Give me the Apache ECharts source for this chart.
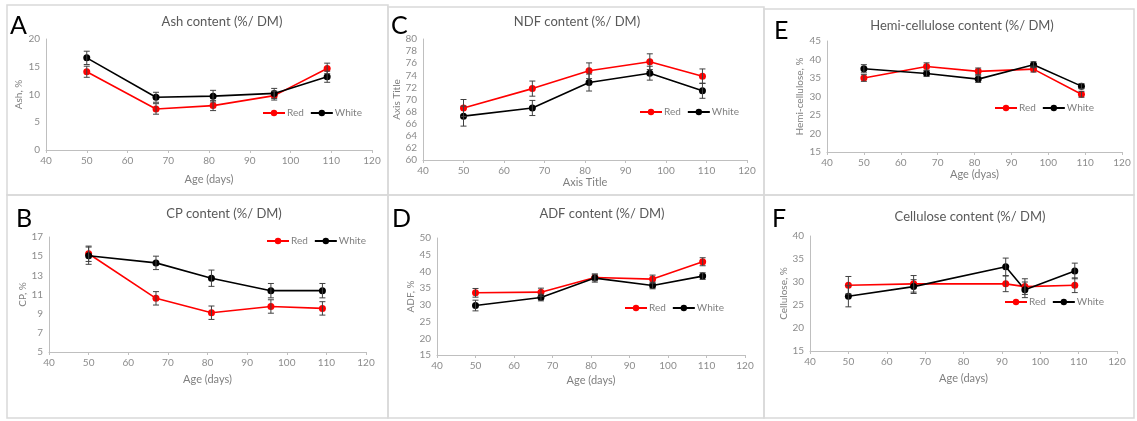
<!DOCTYPE html>
<html>
<head>
<meta charset="utf-8">
<script src="https://cdn.jsdelivr.net/npm/echarts@6/dist/echarts.min.js"></script>
<style>html,body{margin:0;padding:0;background:#fff}#c{width:1137px;height:421px}</style>
</head>
<body>
<div id="c"></div>
<script>
// ---- data ----
const ages = [50, 67, 81, 96, 109];
const agesCellulose = [50, 67, 91, 96, 109];
const xTicks = [40, 50, 60, 70, 80, 90, 100, 110, 120];

const ashRed = [14.1, 7.4, 8.0, 9.8, 14.7];
const ashRedErr = [1.0, 0.95, 0.9, 0.8, 0.95];
const ashWhite = [16.6, 9.5, 9.7, 10.2, 13.2];
const ashWhiteErr = [1.2, 0.9, 1.05, 0.9, 1.0];

const ndfRed = [68.6, 71.8, 74.75, 76.25, 73.85];
const ndfRedErr = [1.4, 1.25, 1.3, 1.3, 1.2];
const ndfWhite = [67.25, 68.6, 72.8, 74.35, 71.45];
const ndfWhiteErr = [1.65, 1.25, 1.4, 1.15, 1.25];

const hemiRed = [35.0, 38.1, 36.8, 37.4, 30.6];
const hemiRedErr = [0.9, 1.0, 0.9, 0.8, 0.8];
const hemiWhite = [37.5, 36.2, 34.7, 38.6, 32.8];
const hemiWhiteErr = [1.1, 0.8, 0.9, 0.8, 0.7];

const cpRed = [15.25, 10.6, 9.1, 9.75, 9.55];
const cpRedErr = [0.8, 0.7, 0.7, 0.7, 0.7];
const cpWhite = [15.05, 14.3, 12.7, 11.4, 11.4];
const cpWhiteErr = [0.9, 0.7, 0.85, 0.75, 0.75];

const adfRed = [33.6, 33.8, 38.2, 37.7, 42.9];
const adfRedErr = [1.3, 1.2, 1.0, 1.2, 1.2];
const adfWhite = [29.8, 32.2, 38.0, 35.8, 38.6];
const adfWhiteErr = [1.6, 1.0, 1.2, 1.0, 1.0];

const celRed = [29.3, 29.6, 29.6, 29.0, 29.3];
const celRedErr = [1.9, 1.8, 1.7, 1.7, 1.6];
const celWhite = [26.9, 29.0, 33.3, 28.3, 32.4];
const celWhiteErr = [2.3, 1.5, 1.9, 1.7, 1.7];

// ---- panels (text + data references) ----
const panels = [
  {letter:'A', title:'Ash content (%/ DM)', xName:'Age (days)', yName:'Ash, %', yMin:0, yMax:20, yStep:5, x:ages, red:ashRed, redErr:ashRedErr, white:ashWhite, whiteErr:ashWhiteErr},
  {letter:'C', title:'NDF content (%/ DM)', xName:'Axis Title', yName:'Axis Title', yMin:60, yMax:80, yStep:2, x:ages, red:ndfRed, redErr:ndfRedErr, white:ndfWhite, whiteErr:ndfWhiteErr},
  {letter:'E', title:'Hemi-cellulose content (%/ DM)', xName:'Age (dyas)', yName:'Hemi-cellulose, %', yMin:15, yMax:45, yStep:5, x:ages, red:hemiRed, redErr:hemiRedErr, white:hemiWhite, whiteErr:hemiWhiteErr},
  {letter:'B', title:'CP content (%/ DM)', xName:'Age (days)', yName:'CP, %', yMin:5, yMax:17, yStep:2, x:ages, red:cpRed, redErr:cpRedErr, white:cpWhite, whiteErr:cpWhiteErr},
  {letter:'D', title:'ADF content (%/ DM)', xName:'Age (days)', yName:'ADF, %', yMin:15, yMax:50, yStep:5, x:ages, red:adfRed, redErr:adfRedErr, white:adfWhite, whiteErr:adfWhiteErr},
  {letter:'F', title:'Cellulose content (%/ DM)', xName:'Age (days)', yName:'Cellulose, %', yMin:15, yMax:40, yStep:5, x:agesCellulose, red:celRed, redErr:celRedErr, white:celWhite, whiteErr:celWhiteErr}
];

// ---- layout ----
const layout = [
  {grid:{left:46, top:39, width:326, height:111}, box:[7,5,381,190], letter:[10,13], titleC:[222,14], legend:[262,108], yNameGap:22, xNameGap:24},
  {grid:{left:423, top:39, width:324, height:121}, box:[388,7,376,188], letter:[391,13], titleC:[577,14], legend:[639,107], yNameGap:20, xNameGap:16},
  {grid:{left:827, top:41, width:295, height:111}, box:[764,9,370,186], letter:[774,18], titleC:[962,18], legend:[994,103], yNameGap:22, xNameGap:17},
  {grid:{left:49, top:237, width:317, height:115}, box:[7,195,381,223], letter:[16,206], titleC:[224,206], legend:[266,236], yNameGap:21, xNameGap:22},
  {grid:{left:437, top:238, width:308, height:117}, box:[388,195,376,223], letter:[392,206], titleC:[602,206], legend:[624,303], yNameGap:21, xNameGap:20},
  {grid:{left:810, top:236, width:307, height:115}, box:[764,195,370,223], letter:[772,206], titleC:[970,209], legend:[1004,297], yNameGap:21, xNameGap:22}
];

const FONT = 'Lato, Open Sans, Liberation Sans, sans-serif';
const grid = [], xAxis = [], yAxis = [], series = [], title = [], legend = [], graphic = [];

function errRender(params, api) {
  const x = api.value(0), y = api.value(1), e = api.value(2);
  const hi = api.coord([x, y + e]), lo = api.coord([x, y - e]);
  const w = 3;
  const st = {stroke:'#404040', lineWidth:1};
  return {type:'group', children:[
    {type:'line', shape:{x1:hi[0], y1:hi[1], x2:lo[0], y2:lo[1]}, style:st},
    {type:'line', shape:{x1:hi[0]-w, y1:hi[1], x2:hi[0]+w, y2:hi[1]}, style:st},
    {type:'line', shape:{x1:lo[0]-w, y1:lo[1], x2:lo[0]+w, y2:lo[1]}, style:st}
  ]};
}

panels.forEach((p, i) => {
  const L = layout[i];
  grid.push(Object.assign({containLabel:false}, L.grid));
  xAxis.push({
    type:'value', gridIndex:i, min:xTicks[0], max:xTicks[xTicks.length-1], interval:xTicks[1]-xTicks[0],
    name:p.xName, nameLocation:'middle', nameGap:L.xNameGap,
    nameTextStyle:{color:'#7f7f7f', fontSize:11, fontFamily:FONT},
    axisLine:{lineStyle:{color:'#bfbfbf', width:1}},
    axisTick:{show:true, length:3, lineStyle:{color:'#bfbfbf'}},
    axisLabel:{color:'#8c8c8c', fontSize:10, fontFamily:FONT, margin:6},
    splitLine:{show:false}
  });
  yAxis.push({
    type:'value', gridIndex:i, min:p.yMin, max:p.yMax, interval:p.yStep,
    name:p.yName, nameLocation:'middle', nameGap:L.yNameGap, nameRotate:90,
    nameTextStyle:{color:'#7f7f7f', fontSize:10, fontFamily:FONT},
    axisLine:{show:true, lineStyle:{color:'#bfbfbf', width:1}},
    axisTick:{show:false},
    axisLabel:{color:'#8c8c8c', fontSize:10, fontFamily:FONT, margin:6},
    splitLine:{show:false}
  });
  const mk = (name, color, vals, errs) => {
    series.push({
      type:'line', name:name, xAxisIndex:i, yAxisIndex:i,
      data:p.x.map((a, k) => [a, vals[k]]),
      symbol:'circle', symbolSize:7, color:color,
      lineStyle:{color:color, width:1.6}, itemStyle:{color:color},
      z:2, animation:false
    });
    series.push({
      type:'custom', name:name + ' error', xAxisIndex:i, yAxisIndex:i,
      data:p.x.map((a, k) => [a, vals[k], errs[k]]),
      renderItem:errRender, z:3, silent:true, animation:false
    });
  };
  mk('Red', '#ff0000', p.red, p.redErr);
  mk('White', '#000000', p.white, p.whiteErr);

  title.push({text:p.title, left:L.titleC[0], top:L.titleC[1] + 1, textAlign:'center', padding:0,
    textStyle:{color:'#595959', fontSize:13, fontWeight:'normal', fontFamily:FONT}});
  title.push({text:p.letter, left:L.letter[0], top:L.letter[1], padding:0,
    textStyle:{color:'#000', fontSize:25, fontWeight:'normal', fontFamily:FONT}});
  legend.push({data:['Red', 'White'], left:L.legend[0], top:L.legend[1], padding:0, itemGap:6,
    itemWidth:22, itemHeight:8, orient:'horizontal', selectedMode:false,
    textStyle:{color:'#7f7f7f', fontSize:10, fontFamily:FONT, padding:[0,0,0,-3]}});
  graphic.push({type:'rect', shape:{x:L.box[0], y:L.box[1], width:L.box[2], height:L.box[3]},
    style:{fill:'none', stroke:'#d9d9d9', lineWidth:1.5}, silent:true, z:-1});
});

const chart = echarts.init(document.getElementById('c'), null, {renderer:'canvas'});
chart.setOption({
  animation:false, backgroundColor:'#fff',
  title, legend, grid, xAxis, yAxis, series, graphic
});
</script>
</body>
</html>
